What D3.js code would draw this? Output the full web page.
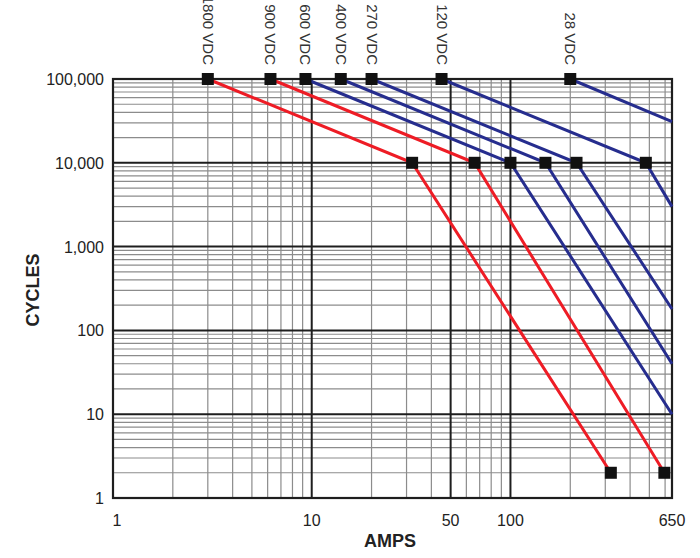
<!DOCTYPE html>
<html>
<head>
<meta charset="utf-8">
<script src="https://cdn.jsdelivr.net/npm/d3@7"></script>
<style>
  html, body { margin: 0; padding: 0; background: #ffffff; }
  svg { display: block; font-family: "Liberation Sans", Arial, sans-serif; }
</style>
</head>
<body>
<svg id="chart" width="700" height="558"></svg>
<script>
// ---- data ----
const seriesNames = ["1800 VDC", "900 VDC", "600 VDC", "400 VDC", "270 VDC", "120 VDC", "28 VDC"];
const seriesGroup = ["red", "red", "blue", "blue", "blue", "blue", "blue"];
const seriesAmps = [
  [3, 32, 320],
  [6.2, 66, 595],
  [9.3, 100, 650],
  [14, 150, 650],
  [20, 215, 650],
  [45, 480, 650],
  [200, 650]
];
const seriesCycles = [
  [100000, 10000, 2],
  [100000, 10000, 2],
  [100000, 10000, 10],
  [100000, 10000, 40],
  [100000, 10000, 180],
  [100000, 10000, 3000],
  [100000, 31000]
];
const seriesMarkers = [
  [true, true, true],
  [true, true, true],
  [true, true, false],
  [true, true, false],
  [true, true, false],
  [true, true, false],
  [true, false]
];
const xTickValues = [1, 10, 50, 100, 650];
const xTickLabels = ["1", "10", "50", "100", "650"];
const yTickValues = [1, 10, 100, 1000, 10000, 100000];
const yTickLabels = ["1", "10", "100", "1,000", "10,000", "100,000"];
const xMajorGrid = [10, 50, 100];
const xTitle = "AMPS";
const yTitle = "CYCLES";

// ---- layout ----
const svg = d3.select("#chart");
const pLeft = 113, pRight = 672, pTop = 79, pBottom = 498;
const x = d3.scaleLog().domain([1, 650]).range([pLeft, pRight]);
const y = d3.scaleLog().domain([1, 100000]).range([pBottom, pTop]);
const colorOf = { red: "#ee1c25", blue: "#262d8e" };

// grid values
const xMinor = [];
for (let d = 1; d <= 100; d *= 10) {
  for (let m = 1; m <= 9; m++) {
    const v = d * m;
    if (v > 1 && v < 650 && !xMajorGrid.includes(v)) xMinor.push(v);
  }
}
const yMinor = [];
const yMajor = [];
for (let d = 1; d < 100000; d *= 10) {
  for (let m = 2; m <= 9; m++) yMinor.push(d * m);
  if (d > 1) yMajor.push(d);
}

const g = svg.append("g");
g.selectAll(".xminor").data(xMinor).join("line")
  .attr("x1", d => x(d)).attr("x2", d => x(d))
  .attr("y1", pTop).attr("y2", pBottom)
  .attr("stroke", "#8c8c8c").attr("stroke-width", 1.2);
g.selectAll(".yminor").data(yMinor).join("line")
  .attr("x1", pLeft).attr("x2", pRight)
  .attr("y1", d => y(d)).attr("y2", d => y(d))
  .attr("stroke", "#8c8c8c").attr("stroke-width", 1.2);
g.selectAll(".xmajor").data(xMajorGrid).join("line")
  .attr("x1", d => x(d)).attr("x2", d => x(d))
  .attr("y1", pTop).attr("y2", pBottom)
  .attr("stroke", "#1e1e1e").attr("stroke-width", 2);
g.selectAll(".ymajor").data(yMajor).join("line")
  .attr("x1", pLeft).attr("x2", pRight)
  .attr("y1", d => y(d)).attr("y2", d => y(d))
  .attr("stroke", "#1e1e1e").attr("stroke-width", 2);
g.append("rect")
  .attr("x", pLeft).attr("y", pTop)
  .attr("width", pRight - pLeft).attr("height", pBottom - pTop)
  .attr("fill", "none").attr("stroke", "#1e1e1e").attr("stroke-width", 2.2);

// tick labels
svg.selectAll(".xt").data(xTickValues).join("text")
  .attr("x", (d) => x(d) + (d === 1 ? 4 : 0)).attr("y", 526)
  .attr("text-anchor", "middle").attr("font-size", 16).attr("fill", "#222")
  .text((d, i) => xTickLabels[i]);
svg.selectAll(".yt").data(yTickValues).join("text")
  .attr("x", 104).attr("y", d => y(d) + 6)
  .attr("text-anchor", "end").attr("font-size", 16).attr("fill", "#222")
  .text((d, i) => yTickLabels[i]);

svg.append("text").attr("x", 390).attr("y", 547)
  .attr("text-anchor", "middle").attr("font-size", 18).attr("font-weight", "bold")
  .attr("fill", "#222").text(xTitle);
svg.append("text").attr("transform", "translate(39,290) rotate(-90)")
  .attr("text-anchor", "middle").attr("font-size", 18).attr("font-weight", "bold")
  .attr("fill", "#222").text(yTitle);

// series lines
const line = d3.line().x(d => x(d[0])).y(d => y(d[1]));
seriesNames.forEach((name, i) => {
  const pts = seriesAmps[i].map((a, j) => [a, seriesCycles[i][j]]);
  svg.append("path").datum(pts)
    .attr("d", line).attr("fill", "none")
    .attr("stroke", colorOf[seriesGroup[i]]).attr("stroke-width", 3);
});
// markers
const ms = 12;
seriesNames.forEach((name, i) => {
  const pts = seriesAmps[i].map((a, j) => [a, seriesCycles[i][j], seriesMarkers[i][j]]).filter(p => p[2]);
  svg.selectAll(null).data(pts).join("rect")
    .attr("x", d => x(d[0]) - ms / 2).attr("y", d => y(d[1]) - ms / 2)
    .attr("width", ms).attr("height", ms).attr("fill", "#111");
});
// series labels (rotated, above top markers)
seriesNames.forEach((name, i) => {
  const xa = x(seriesAmps[i][0]);
  svg.append("text")
    .attr("transform", `translate(${xa - 5},65) rotate(90)`)
    .attr("text-anchor", "end").attr("font-size", 15).attr("fill", "#333")
    .text(name);
});
</script>
</body>
</html>
